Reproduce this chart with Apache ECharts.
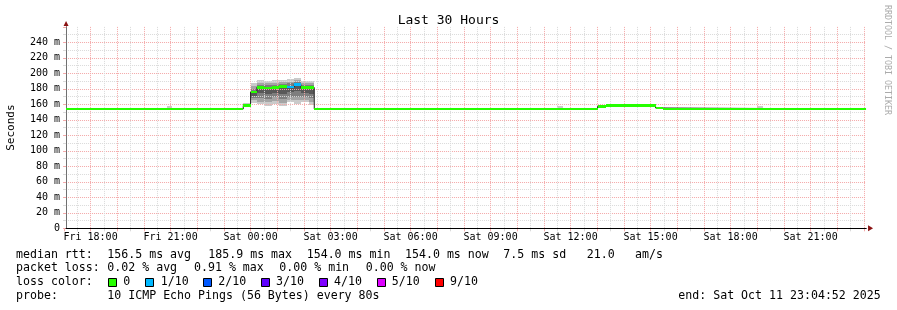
<!DOCTYPE html>
<html><head><meta charset="utf-8">
<script src="https://cdn.jsdelivr.net/npm/echarts@6/dist/echarts.min.js"></script>
<style>html,body{margin:0;padding:0;background:#fff}#c{width:897px;height:310px}</style>
</head><body><div id="c"></div>
<script>
// ---------- DATA (time in hours since Fri 00:00) ----------
const rangeStart = 17.0811;   // Fri 17:04:52
const rangeEnd = 47.0811;     // Sat 23:04:52
const medianStart = [17.0811, 23.726, 24.0, 24.236, 24.514, 24.799, 25.076, 25.361, 25.639, 25.886, 26.175, 26.389, 37.012, 37.339, 39.188, 39.45];
const medianEnd   = [23.726, 24.0, 24.236, 24.514, 24.799, 25.076, 25.361, 25.639, 25.886, 26.175, 26.389, 37.012, 37.339, 39.188, 39.45, 47.0811];
const medianMs    = [154, 158.5, 175.9, 182, 181.2, 182, 183, 182.5, 185.9, 181.5, 181.8, 154, 157.4, 158.3, 155.3, 154];
const lossLevel   = [0, 0, 0, 0, 0, 0, 0, 1, 1, 0, 0, 0, 0, 0, 0, 0];

const smokeStart = [20.87, 23.726, 24.0, 24.236, 24.514, 24.799, 25.076, 25.361, 25.639, 25.886, 26.175, 35.49, 42.99];
const smokeEnd   = [21.06, 24.0, 24.236, 24.514, 24.799, 25.076, 25.361, 25.639, 25.886, 26.175, 26.389, 35.72, 43.22];
const smokeL1 = [154, 156, 161.5, 160, 158.5, 160, 158, 163, 161, 163, 159, 154, 154];
const smokeL2 = [154, 157, 165, 163, 163, 164, 162, 166, 165, 166, 163, 154, 154];
const smokeL3 = [154, 157.5, 168, 168.6, 167, 169, 167, 170, 170, 170, 168, 154, 154];
const smokeL4 = [154, 158, 171, 175, 173, 175, 174, 176, 177, 175, 174, 154, 154];
const smokeH4 = [154, 159, 177, 183.5, 183, 183.5, 184.5, 184, 187.5, 183, 183.5, 154, 154];
const smokeH3 = [154, 159.5, 180, 185, 185, 185.5, 186.5, 187, 189.5, 185, 185.5, 154, 154];
const smokeH2 = [155, 160, 183.5, 187.7, 187, 188, 189, 189.5, 191.5, 187.5, 188, 155, 155];
const smokeH1 = [157.5, 162, 187, 191, 190.5, 191, 192, 192.5, 194, 190, 190.5, 157.5, 157.5];

const yTickStep = 20;
const yMax = 260;
const lossColors = ['#26ff00', '#00b8ff', '#0059ff', '#5e00ff', '#7e00ff', '#dd00ff', '#ff0000'];
const lossLabels = ['0', '1/10', '2/10', '3/10', '4/10', '5/10', '9/10'];
const rttStats = ['156.5 ms avg', '185.9 ms max', '154.0 ms min', '154.0 ms now', '7.5 ms sd', '21.0', 'am/s'];
const lossStats = ['0.02 % avg', '0.91 % max', '0.00 % min', '0.00 % now'];
const probeText = '10 ICMP Echo Pings (56 Bytes) every 80s';
const endText = 'end: Sat Oct 11 23:04:52 2025';
const titleText = 'Last 30 Hours';

// ---------- LAYOUT ----------
const MONO = '"DejaVu Sans Mono", monospace';
const PXH = 80 / 3;
const gLeft1 = 63.9;                          // pixel of Fri 17:00
const gLeft0 = gLeft1 + (rangeStart - 17) * PXH;
const gRight0 = gLeft1 + (rangeEnd - 17) * PXH;
const gTop = 26.9, gBottomPx = 228.3;
const majorCol = '#f4a8a8', minorCol = '#dadada';
const smokeCols = ['#cacaca', '#a4a4a4', '#7e7e7e', '#585858'];

const medianData = medianStart.map((s, i) => [s, medianEnd[i], medianMs[i], lossLevel[i]]);
const stepData = medianStart.map((s, i) => [s, medianMs[i]]).concat([[rangeEnd, medianMs[medianMs.length - 1]]]);
const smokeData = smokeStart.map((s, i) => [s, smokeEnd[i], smokeL1[i], smokeL2[i], smokeL3[i], smokeL4[i], smokeH4[i], smokeH3[i], smokeH2[i], smokeH1[i]]);

function xLabel(v) {
  if (Math.abs(v - Math.round(v)) > 1e-6) return '';
  const h = Math.round(v);
  if (h % 3 !== 0) return '';
  const day = h < 24 ? 'Fri' : 'Sat';
  const hh = h % 24;
  return day + ' ' + (hh < 10 ? '0' : '') + hh + ':00';
}

const graphic = [];
function txt(x, y, s, extra) {
  graphic.push(Object.assign({ type: 'text', x: x, y: y, style: { text: s, font: '11.6px ' + MONO, fill: '#000', align: 'left', verticalAlign: 'middle' } }, extra || {}));
}
const rttX = [107.3, 208.3, 306.7, 405, 503.3, 586.7, 635];
const lossX = [107.3, 194, 279.3, 365.7];
const sqX = [108.5, 145.5, 203.5, 261.5, 319.5, 377.5, 435.5];
const sqLabelX = [123.3, 160.7, 218.3, 276, 334, 391.7, 450];
const rowY = [254.5, 268.2, 282, 295.5];
txt(16, rowY[0], 'median rtt:');
rttStats.forEach((s, i) => txt(rttX[i], rowY[0], s));
txt(16, rowY[1], 'packet loss:');
lossStats.forEach((s, i) => txt(lossX[i], rowY[1], s));
txt(16, rowY[2], 'loss color:');
lossColors.forEach((c, i) => {
  graphic.push({ type: 'rect', shape: { x: sqX[i], y: 278.5, width: 8, height: 8 }, style: { fill: c, stroke: '#000', lineWidth: 1 } });
  txt(sqLabelX[i], rowY[2], lossLabels[i]);
});
txt(16, rowY[3], 'probe:');
txt(107.3, rowY[3], probeText);
txt(678.3, rowY[3], endText);
graphic.push({ type: 'text', x: 886.7, y: 5, rotation: -Math.PI / 2,
  style: { text: 'RRDTOOL / TOBI OETIKER', font: '8.3px ' + MONO, fill: '#ababab', align: 'left', verticalAlign: 'middle' } });

const chart = echarts.init(document.getElementById('c'), null, { renderer: 'canvas' });
const option = {
  animation: false,
  backgroundColor: '#fff',
  title: { text: titleText, left: 'center', top: 9,
    textStyle: { fontFamily: MONO, fontSize: 13, fontWeight: 'normal', color: '#000' } },
  grid: [
    { left: gLeft0, width: gRight0 - gLeft0, top: gTop, height: gBottomPx - gTop, containLabel: false, outerBoundsMode: 'none' },
    { left: gLeft1, width: 30 * PXH, top: gTop, height: gBottomPx - gTop, containLabel: false, outerBoundsMode: 'none' }
  ],
  xAxis: [
    { gridIndex: 0, type: 'value', position: 'bottom', min: rangeStart, max: rangeEnd, z: 2,
      axisLine: { show: true, onZero: false, lineStyle: { color: '#000', width: 1 } },
      axisTick: { show: false }, axisLabel: { show: false }, splitLine: { show: false } },
    { gridIndex: 1, type: 'value', position: 'bottom', min: 17, max: 47, interval: 1, z: 1,
      axisLine: { show: false, onZero: false },
      axisTick: { show: true, length: 3, interval: 0, lineStyle: { color: majorCol } },
      minorTick: { show: true, splitNumber: 2, length: 3, lineStyle: { color: minorCol } },
      axisLabel: { show: true, interval: 0, margin: 4, formatter: xLabel, fontFamily: MONO, fontSize: 10, color: '#000', hideOverlap: false },
      splitLine: { show: true, interval: 0, showMinLine: false, lineStyle: { color: majorCol, type: [1, 1], width: 1 } },
      minorSplitLine: { show: true, lineStyle: { color: minorCol, type: [1, 1], width: 1 } } },
    { gridIndex: 0, type: 'value', position: 'bottom', offset: 0, min: rangeStart, max: rangeEnd, z: 0,
      axisLine: { show: true, onZero: false, symbol: ['none', 'triangle'], symbolSize: [6, 5], symbolOffset: [0, 4.5], lineStyle: { color: '#8b1212', width: 1 } },
      axisTick: { show: false }, axisLabel: { show: false }, splitLine: { show: false } }
  ],
  yAxis: [
    { gridIndex: 0, type: 'value', position: 'left', min: 0, max: yMax, interval: yTickStep, z: 1,
      name: 'Seconds', nameLocation: 'middle', nameGap: 49, nameRotate: 90,
      nameTextStyle: { fontFamily: MONO, fontSize: 11, color: '#000' },
      axisLine: { show: true, onZero: false, lineStyle: { color: '#707070' } },
      axisTick: { show: true, length: 3, lineStyle: { color: majorCol } },
      minorTick: { show: true, splitNumber: 2, length: 3, lineStyle: { color: minorCol } },
      axisLabel: { margin: 6, fontFamily: MONO, fontSize: 10, color: '#000',
        formatter: v => v === 0 ? '0' : (v >= yMax ? '' : v + ' m') },
      splitLine: { show: true, showMaxLine: false, lineStyle: { color: majorCol, type: [1, 1] } },
      minorSplitLine: { show: true, lineStyle: { color: minorCol, type: [1, 1] } } },
    { gridIndex: 0, type: 'value', position: 'left', offset: 0, min: 0, max: yMax, z: 0,
      axisLine: { show: true, onZero: false, symbol: ['none', 'triangle'], symbolSize: [5, 5], symbolOffset: [0, 3.5], lineStyle: { color: '#8b1212' } },
      axisTick: { show: false }, axisLabel: { show: false }, splitLine: { show: false } },
    { gridIndex: 1, type: 'value', min: 0, max: yMax, show: false }
  ],
  series: [
    { type: 'custom', xAxisIndex: 0, yAxisIndex: 0, z: 0, data: smokeData,
      encode: { x: [0, 1], y: [2, 3, 4, 5, 6, 7, 8, 9] },
      renderItem: function (params, api) {
        const t0 = api.value(0), t1 = api.value(1);
        const children = [];
        for (let k = 0; k < 4; k++) {
          const lo = api.value(2 + k), hi = api.value(9 - k);
          if (hi <= lo) continue;
          const a = api.coord([t0, hi]), b = api.coord([t1, lo]);
          const x0 = Math.round(a[0]), x1 = Math.round(b[0]);
          const y0 = Math.round(a[1]), y1 = Math.round(b[1]);
          children.push({ type: 'rect', shape: { x: x0, y: y0, width: x1 - x0, height: Math.max(1, y1 - y0) }, style: { fill: smokeCols[k] } });
        }
        return { type: 'group', children: children };
      } },
    { type: 'line', xAxisIndex: 0, yAxisIndex: 0, z: 3, step: 'end', data: stepData,
      showSymbol: false, symbol: 'none', lineStyle: { color: '#202020', width: 1 } },
    { type: 'custom', xAxisIndex: 0, yAxisIndex: 0, z: 4, data: medianData,
      encode: { x: [0, 1], y: 2 },
      renderItem: function (params, api) {
        const a = api.coord([api.value(0), api.value(2)]);
        const b = api.coord([api.value(1), api.value(2)]);
        const x0 = Math.round(a[0]), x1 = Math.round(b[0]);
        const yt = Math.round(a[1] - 1.3), yb = Math.round(a[1] + 1.3);
        return { type: 'rect', shape: { x: x0, y: yt, width: x1 - x0, height: yb - yt },
          style: { fill: lossColors[api.value(3)] } };
      } }
  ],
  graphic: graphic
};
chart.setOption(option);
</script></body></html>
